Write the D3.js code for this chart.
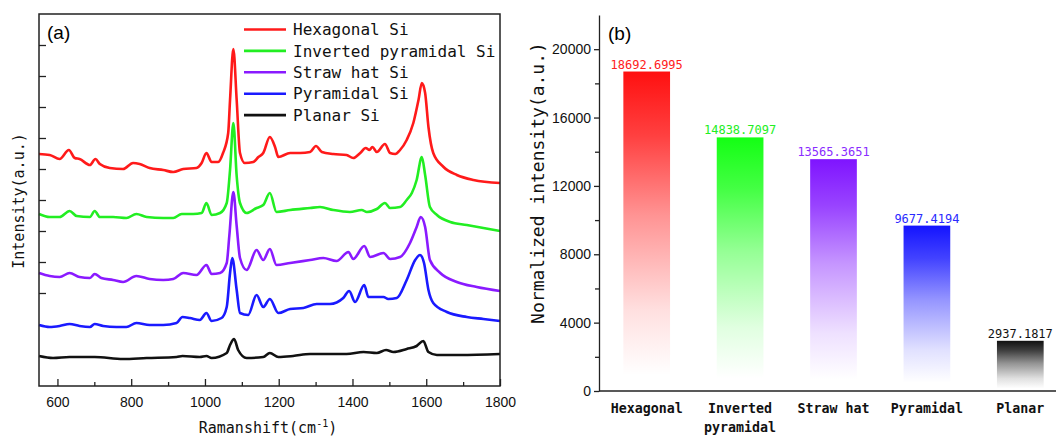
<!DOCTYPE html>
<html lang="en">
  <head>
    <meta charset="UTF-8" />
    <title>Raman spectra and normalized intensity</title>
    <script src="https://d3js.org/d3.v7.min.js"></script>
    <style>
      body {
        margin: 0;
        padding: 0;
        background: #fff;
      }
      svg {
        display: block;
      }
      .mono {
        font-family: "DejaVu Sans Mono", "Liberation Mono", monospace;
        fill: #111;
      }
      .tick text {
        font-family: "Liberation Sans", Arial, sans-serif;
        font-size: 14px;
        fill: #111;
      }
      .axis path,
      .axis line {
        stroke: #222;
        stroke-width: 1.3;
      }
    </style>
  </head>
  <body>
    <div id="chart"></div>
    <script>
      // (a) Raman spectra, shift in cm-1 and intensity in a.u.
      const hexShift = [550, 579, 606, 631, 647, 660, 688, 703, 715, 742, 778, 805, 823, 850, 887, 914, 941, 977, 991, 1004, 1018, 1036, 1049, 1063, 1068, 1077, 1086, 1095, 1108, 1131, 1145, 1158, 1176, 1190, 1199, 1231, 1258, 1285, 1301, 1317, 1348, 1384, 1402, 1421, 1436, 1446, 1454, 1466, 1488, 1502, 1516, 1529, 1547, 1565, 1579, 1588, 1597, 1606, 1619, 1647, 1683, 1728, 1800];
      const hexInt = [232, 231, 227, 236, 228, 227, 221, 227, 222, 218, 217, 223, 222, 218, 216, 214, 217, 218, 223, 233, 224, 224, 233, 253, 286, 337, 286, 233, 223, 224, 229, 233, 249, 239, 229, 233, 233, 234, 240, 234, 232, 231, 228, 233, 238, 236, 239, 234, 242, 233, 232, 236, 246, 263, 286, 303, 293, 259, 233, 219, 211, 206, 203];

      const invShift = [550, 579, 606, 633, 652, 688, 701, 715, 751, 787, 814, 842, 887, 914, 937, 968, 991, 1004, 1018, 1041, 1059, 1068, 1077, 1086, 1095, 1113, 1140, 1158, 1176, 1194, 1231, 1285, 1312, 1348, 1393, 1425, 1439, 1466, 1488, 1502, 1529, 1547, 1561, 1574, 1588, 1597, 1610, 1629, 1665, 1710, 1755, 1800];
      const invInt = [172, 169, 169, 175, 170, 169, 175, 169, 169, 168, 172, 169, 168, 168, 172, 172, 173, 183, 171, 173, 183, 216, 263, 210, 183, 173, 178, 181, 193, 174, 176, 178, 179, 176, 174, 176, 174, 177, 183, 178, 179, 186, 193, 206, 229, 211, 179, 171, 164, 161, 158, 155];

      const strawShift = [550, 579, 606, 633, 660, 688, 701, 719, 751, 778, 814, 850, 887, 914, 941, 977, 1004, 1018, 1041, 1059, 1066, 1077, 1086, 1095, 1113, 1140, 1158, 1176, 1194, 1231, 1285, 1321, 1357, 1389, 1402, 1432, 1448, 1484, 1502, 1529, 1556, 1574, 1585, 1597, 1610, 1638, 1683, 1737, 1800];
      const strawInt = [113, 110, 109, 113, 109, 108, 112, 108, 106, 104, 110, 107, 106, 107, 113, 111, 121, 112, 113, 123, 150, 194, 160, 128, 116, 136, 126, 137, 121, 123, 126, 128, 125, 134, 127, 140, 129, 133, 127, 129, 143, 159, 169, 159, 126, 113, 104, 99, 95];

      const pyrShift = [550, 579, 606, 633, 660, 688, 701, 724, 760, 787, 814, 850, 887, 923, 939, 959, 986, 1004, 1018, 1045, 1059, 1068, 1074, 1086, 1095, 1117, 1140, 1158, 1176, 1199, 1231, 1267, 1303, 1339, 1375, 1391, 1407, 1432, 1443, 1466, 1484, 1497, 1520, 1547, 1570, 1583, 1594, 1606, 1619, 1656, 1710, 1755, 1800];
      const pyrInt = [61, 59, 60, 62, 60, 59, 62, 60, 59, 59, 63, 61, 61, 63, 69, 68, 66, 73, 65, 68, 79, 113, 128, 96, 73, 71, 91, 79, 87, 73, 77, 78, 82, 82, 88, 95, 84, 101, 89, 89, 89, 87, 88, 106, 126, 131, 123, 96, 83, 74, 69, 67, 65];

      const planShift = [550, 588, 633, 701, 778, 842, 923, 939, 986, 1004, 1018, 1059, 1068, 1079, 1090, 1113, 1158, 1176, 1199, 1239, 1285, 1330, 1384, 1430, 1466, 1491, 1511, 1547, 1574, 1592, 1606, 1629, 1692, 1800];
      const planInt = [30, 28, 29, 29, 27, 28, 29, 30, 29, 30, 28, 33, 41, 47, 36, 28, 29, 33, 29, 30, 32, 32, 32, 34, 33, 36, 34, 37, 40, 45, 34, 31, 31, 32];

      const seriesNames = ["Hexagonal Si", "Inverted pyramidal Si", "Straw hat Si", "Pyramidal Si", "Planar Si"];
      const lineColors = ["#ff1a1a", "#22ee22", "#8a1aff", "#1a1aff", "#111111"];

      // (b) normalized intensity
      const barNames = ["Hexagonal", "Inverted pyramidal", "Straw hat", "Pyramidal", "Planar"];
      const barValues = [18692.6995, 14838.7097, 13565.3651, 9677.4194, 2937.1817];
      const barColors = ["#ff1010", "#14ff14", "#7f14ff", "#1414ff", "#111111"];
      const valueColors = ["#ff2020", "#22ee22", "#8a2cff", "#2a2aff", "#111111"];
      const barTicks = [0, 4000, 8000, 12000, 16000, 20000];

      const width = 1056;
      const height = 436;

      const svg = d3
        .select("#chart")
        .append("svg")
        .attr("width", width)
        .attr("height", height);

      // ---------- panel (a) ----------
      const xA = d3.scaleLinear().domain([550, 1800]).range([39, 500]);
      const yA = d3.scaleLinear().domain([0, 372]).range([386, 14]);

      const spectra = [
        [hexShift, hexInt],
        [invShift, invInt],
        [strawShift, strawInt],
        [pyrShift, pyrInt],
        [planShift, planInt],
      ];

      const line = d3
        .line()
        .x((d) => xA(d[0]))
        .y((d) => yA(d[1]))
        .curve(d3.curveMonotoneX);

      svg
        .append("g")
        .selectAll("path")
        .data(spectra)
        .enter()
        .append("path")
        .attr("d", ([xs, ys]) => line(xs.map((x, i) => [x, ys[i]])))
        .attr("fill", "none")
        .attr("stroke", (d, i) => lineColors[i])
        .attr("stroke-width", 2.6)
        .attr("stroke-linejoin", "round");

      // bottom axis, ticks pointing in
      svg
        .append("g")
        .attr("class", "axis")
        .attr("transform", "translate(0,386)")
        .call(
          d3
            .axisBottom(xA)
            .tickValues(d3.range(600, 1801, 200))
            .tickSizeInner(-7)
            .tickSizeOuter(0)
            .tickPadding(11)
            .tickFormat(d3.format("d"))
        )
        .call((g) => g.select(".domain").remove());

      svg
        .append("g")
        .attr("class", "axis")
        .attr("transform", "translate(0,386)")
        .call(
          d3
            .axisBottom(xA)
            .tickValues(d3.range(700, 1800, 200))
            .tickSize(-4)
            .tickFormat("")
        )
        .call((g) => g.select(".domain").remove());

      svg
        .append("g")
        .attr("class", "axis")
        .attr("transform", "translate(39,0)")
        .call(
          d3
            .axisLeft(yA)
            .tickValues(d3.range(93, 350, 31))
            .tickSize(-7)
            .tickFormat("")
        )
        .call((g) => g.select(".domain").remove());

      svg
        .append("rect")
        .attr("x", xA(550))
        .attr("y", yA(372))
        .attr("width", xA(1800) - xA(550))
        .attr("height", yA(0) - yA(372))
        .attr("fill", "none")
        .attr("stroke", "#222")
        .attr("stroke-width", 1.5);

      svg
        .append("text")
        .attr("x", 47)
        .attr("y", 39)
        .style("font-family", "Liberation Sans, Arial, sans-serif")
        .style("font-size", "19px")
        .text("(a)");

      const xTitle = svg
        .append("text")
        .attr("class", "mono")
        .attr("x", 268)
        .attr("y", 433)
        .attr("text-anchor", "middle")
        .style("font-size", "15px");
      xTitle.append("tspan").text("Ramanshift(cm");
      xTitle
        .append("tspan")
        .attr("dy", -6)
        .style("font-size", "10px")
        .text("-1");
      xTitle.append("tspan").attr("dy", 6).text(")");

      svg
        .append("text")
        .attr("class", "mono")
        .attr("transform", "translate(24,201) rotate(-90)")
        .attr("text-anchor", "middle")
        .style("font-size", "15px")
        .text("Intensity(a.u.)");

      // legend
      const legend = svg
        .append("g")
        .selectAll("g")
        .data(seriesNames)
        .enter()
        .append("g")
        .attr("transform", (d, i) => `translate(244,${29.5 + i * 21.4})`);

      legend
        .append("line")
        .attr("x1", 0)
        .attr("x2", 42)
        .attr("stroke", (d, i) => lineColors[i])
        .attr("stroke-width", 2.6);

      legend
        .append("text")
        .attr("class", "mono")
        .attr("x", 49)
        .attr("dy", "0.35em")
        .style("font-size", "16px")
        .text((d) => d);

      // ---------- panel (b) ----------
      const yB = d3.scaleLinear().domain([0, 22000]).range([391, 15]);
      const xB = d3
        .scaleBand()
        .domain(barNames)
        .range([600, 1067])
        .paddingInner(0.5)
        .paddingOuter(0.25);

      const defs = svg.append("defs");
      barColors.forEach((c, i) => {
        const grad = defs
          .append("linearGradient")
          .attr("id", "bar-grad-" + i)
          .attr("x1", 0)
          .attr("y1", 0)
          .attr("x2", 0)
          .attr("y2", 1);
        [
          [0, 1],
          [0.2, 0.8],
          [0.45, 0.45],
          [0.75, 0.13],
          [0.95, 0],
        ].forEach(([o, a]) =>
          grad
            .append("stop")
            .attr("offset", o)
            .attr("stop-color", c)
            .attr("stop-opacity", a)
        );
      });

      svg
        .append("g")
        .selectAll("rect")
        .data(barValues)
        .enter()
        .append("rect")
        .attr("x", (d, i) => xB(barNames[i]))
        .attr("y", (d) => yB(d))
        .attr("width", xB.bandwidth())
        .attr("height", (d) => yB(0) - yB(d))
        .attr("fill", (d, i) => `url(#bar-grad-${i})`);

      svg
        .append("g")
        .selectAll("text")
        .data(barValues)
        .enter()
        .append("text")
        .attr("class", "mono")
        .attr("x", (d, i) => xB(barNames[i]) + xB.bandwidth() / 2)
        .attr("y", (d) => yB(d) - 3)
        .attr("text-anchor", "middle")
        .style("font-size", "12px")
        .style("fill", (d, i) => valueColors[i])
        .text((d) => d.toFixed(4));

      svg
        .append("g")
        .attr("class", "axis")
        .attr("transform", "translate(599,0)")
        .call(
          d3
            .axisLeft(yB)
            .tickValues(barTicks)
            .tickSize(5)
            .tickSizeOuter(0)
            .tickPadding(3)
            .tickFormat(d3.format("d"))
        );

      svg
        .append("g")
        .attr("class", "axis")
        .attr("transform", "translate(599,0)")
        .call(
          d3
            .axisLeft(yB)
            .tickValues(d3.range(2000, 20001, 4000))
            .tickSize(4)
            .tickFormat("")
        )
        .call((g) => g.select(".domain").remove());

      // x axis line and category labels
      svg
        .append("line")
        .attr("x1", 599)
        .attr("x2", width)
        .attr("y1", yB(0))
        .attr("y2", yB(0))
        .attr("stroke", "#222")
        .attr("stroke-width", 1.3);

      const catLabels = svg
        .append("g")
        .selectAll("text")
        .data(barNames)
        .enter()
        .append("text")
        .attr("class", "mono")
        .attr("x", (d) => xB(d) + xB.bandwidth() / 2)
        .attr("y", 413)
        .attr("text-anchor", "middle")
        .style("font-size", "13.3px")
        .style("font-weight", "bold");

      catLabels.each(function (d) {
        const parts = d === "Inverted pyramidal" ? d.split(" ") : [d];
        parts.forEach((p, k) =>
          d3
            .select(this)
            .append("tspan")
            .attr("x", xB(d) + xB.bandwidth() / 2)
            .attr("dy", k === 0 ? 0 : 19)
            .text(p)
        );
      });

      svg
        .append("text")
        .attr("x", 608)
        .attr("y", 40)
        .style("font-family", "Liberation Sans, Arial, sans-serif")
        .style("font-size", "19px")
        .text("(b)");

      svg
        .append("text")
        .attr("class", "mono")
        .attr("transform", "translate(544,183) rotate(-90)")
        .attr("text-anchor", "middle")
        .style("font-size", "18px")
        .text("Normalized intensity(a.u.)");
    </script>
  </body>
</html>
